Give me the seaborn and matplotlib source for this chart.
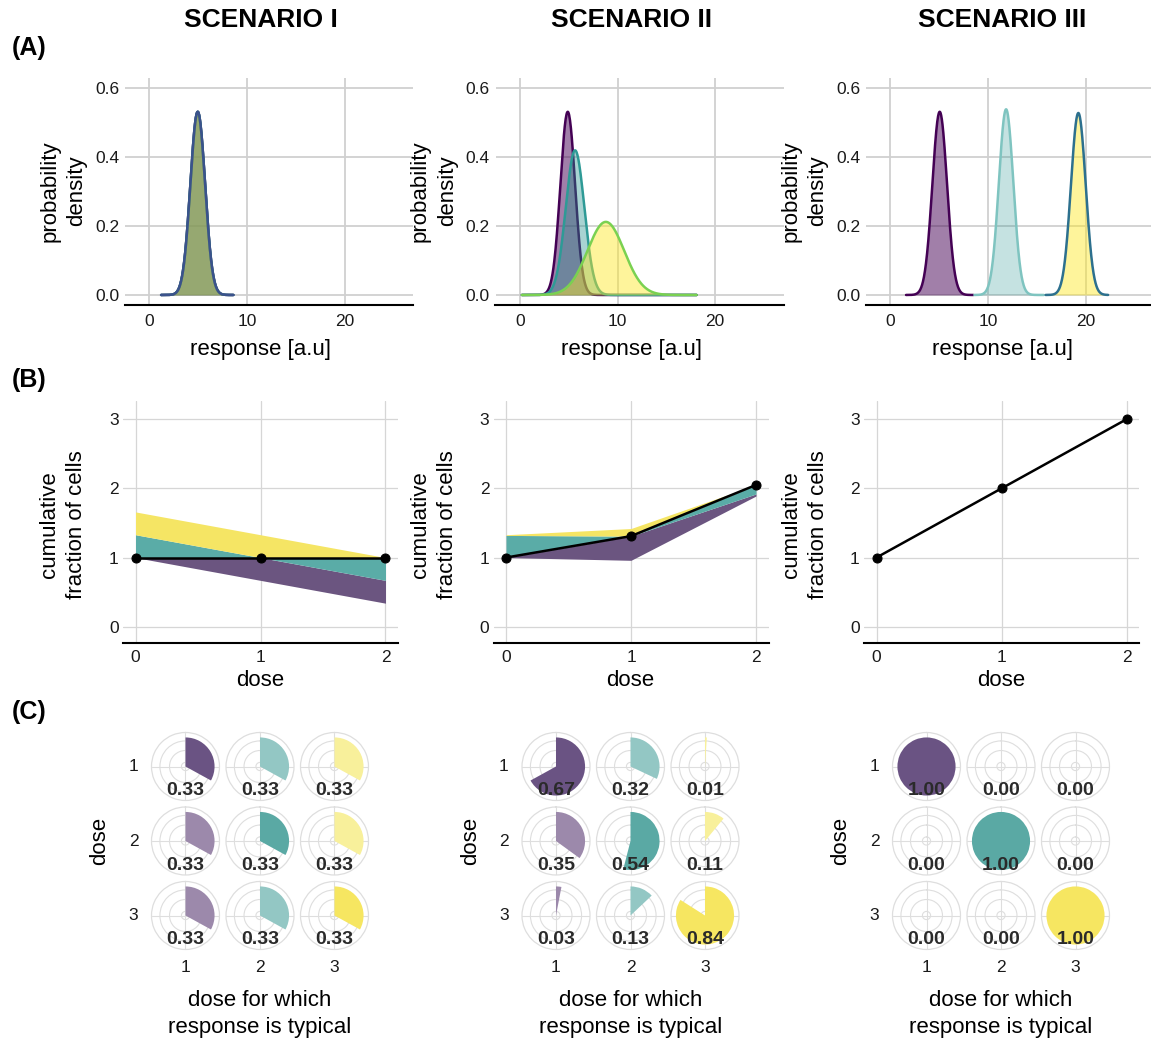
import numpy as np
import matplotlib
matplotlib.use("Agg")
import matplotlib.pyplot as plt
import seaborn as sns

sns.set_theme(style="whitegrid")
plt.rcParams['font.family'] = ['Liberation Sans', 'DejaVu Sans']

W, H = 1151, 1042
fig = plt.figure(figsize=(W / 100, H / 100), dpi=100)

scenario_titles = ["SCENARIO I", "SCENARIO II", "SCENARIO III"]
dose_labels = ["1", "2", "3"]
doses = [0, 1, 2]

# (A) response distributions for doses 1, 2, 3 (normal: mean, sd, drawn range)
means_I = [4.95, 4.95, 4.95]
sds_I = [0.75, 0.75, 0.75]
ranges_I = [(1.2, 8.6), (1.2, 8.6), (1.2, 8.6)]

means_II = [4.9, 5.65, 8.8]
sds_II = [0.75, 0.95, 1.88]
ranges_II = [(0.2, 18.1), (0.2, 18.1), (0.2, 18.1)]

means_III = [5.05, 11.85, 19.25]
sds_III = [0.75, 0.74, 0.755]
ranges_III = [(1.6, 8.5), (8.6, 15.7), (15.9, 22.3)]

# (B) cumulative fraction of cells at dose 0, 1, 2
cumfrac_I = [1.0, 1.0, 1.0]
cumfrac_II = [1.0, 1.31, 2.05]
cumfrac_III = [1.0, 2.0, 3.0]

# (C) fraction of cells at each dose (rows) whose response is typical for each dose (columns)
typical_I = [[0.33, 0.33, 0.33],
             [0.33, 0.33, 0.33],
             [0.33, 0.33, 0.33]]
typical_II = [[0.67, 0.32, 0.01],
              [0.35, 0.54, 0.11],
              [0.03, 0.13, 0.84]]
typical_III = [[1.00, 0.00, 0.00],
               [0.00, 1.00, 0.00],
               [0.00, 0.00, 1.00]]

# styling
fill_rgb = ['#440154', '#21908C', '#FDE725']
fill_alpha = [[0.5, 0.5, 0.35], [0.5, 0.39, 0.46], [0.5, 0.26, 0.46]]
line_cols = [['#440154', '#21908C', '#3B528B'],
             ['#440154', '#2E9A96', '#7AD151'],
             ['#440154', '#7FC4C0', '#2D708E']]
band_cols = ['#6b5580', '#5aaca7', '#f5e564']
wedge_diag = ['#6a5383', '#5aa9a4', '#f6e661']
wedge_off = ['#9c89ab', '#93c7c4', '#f8f09b']
TICK_C = '#1a1a1a'
LABEL_FS = 16
STEP = 370.5


def px_axes(l, t, r, b, **kw):
    return fig.add_axes([l / W, 1 - b / H, (r - l) / W, (b - t) / H], **kw)


def ftext(x, y, s, **kw):
    kw.setdefault('ha', 'center')
    kw.setdefault('va', 'center')
    fig.text(x / W, 1 - y / H, s, **kw)


def style_cartesian(ax, grid_lw, grid_c):
    ax.set_facecolor('white')
    ax.grid(True, color=grid_c, lw=grid_lw)
    for side in ['left', 'top', 'right']:
        ax.spines[side].set_visible(False)
    ax.spines['bottom'].set_visible(True)
    ax.spines['bottom'].set_color('black')
    ax.spines['bottom'].set_linewidth(1.5)
    ax.tick_params(length=0, labelsize=12.5, labelcolor=TICK_C)
    ax.set_xlabel('')
    ax.set_ylabel('')


density_sets = [(means_I, sds_I, ranges_I), (means_II, sds_II, ranges_II),
                (means_III, sds_III, ranges_III)]
cumfrac_sets = [cumfrac_I, cumfrac_II, cumfrac_III]
typical_sets = [typical_I, typical_II, typical_III]

for k in range(3):
    off = k * STEP
    cx = 261 + off
    ftext(cx, 20, scenario_titles[k], fontsize=19, fontweight='bold', color='black')

    # ---------- (A) densities ----------
    ax = px_axes(125 + off, 78, 413 + off, 305.3)
    means, sds, ranges = density_sets[k]
    for i in range(3):
        x = np.linspace(ranges[i][0], ranges[i][1], 400)
        y = np.exp(-0.5 * ((x - means[i]) / sds[i]) ** 2) / (sds[i] * np.sqrt(2 * np.pi))
        ax.fill_between(x, 0, y, color=fill_rgb[i], alpha=fill_alpha[k][i], lw=0, zorder=2 + i)
        sns.lineplot(x=x, y=y, color=line_cols[k][i], lw=1.8, ax=ax, zorder=2.5 + i,
                     sort=False, estimator=None)
    ax.set_xlim(-2.5, 27)
    ax.set_ylim(-0.03, 0.63)
    ax.set_xticks([0, 10, 20])
    ax.set_yticks([0, 0.2, 0.4, 0.6])
    ax.set_yticklabels(["0.0", "0.2", "0.4", "0.6"])
    style_cartesian(ax, 1.3, '#d0d0d0')
    ax.tick_params(axis='x', pad=6)
    ax.tick_params(axis='y', pad=4)
    ftext(cx, 350, "response [a.u]", fontsize=LABEL_FS, color='black')
    ftext(50 + off, 191, "probability", fontsize=LABEL_FS, rotation=90, color='black')
    ftext(77 + off, 191, "density", fontsize=LABEL_FS, rotation=90, color='black')

    # ---------- (B) cumulative fractions ----------
    ax = px_axes(123 + off, 400.6, 398 + off, 642.6)
    frac = np.array(typical_sets[k])
    black = np.array(cumfrac_sets[k])
    lower = np.zeros((3, 3))
    upper = np.zeros((3, 3))
    for d in range(3):
        thick = frac[d].copy()
        thick[d] = 0.0
        base = black[d] - thick[:d].sum()
        for j in range(3):
            lower[j, d] = base
            upper[j, d] = base + thick[j]
            base += thick[j]
    for j in range(3):
        if np.any(upper[j] - lower[j] > 0):
            ax.fill_between(doses, lower[j], upper[j], color=band_cols[j], lw=0, zorder=2)
    sns.lineplot(x=doses, y=black, color='black', lw=1.8, marker='o', markersize=6.5,
                 markeredgecolor='black', ax=ax, zorder=4)
    ax.set_xlim(-0.1, 2.1)
    ax.set_ylim(-0.23, 3.27)
    ax.set_xticks(doses)
    ax.set_yticks([0, 1, 2, 3])
    style_cartesian(ax, 0.9, '#d6d6d6')
    ax.tick_params(axis='x', pad=5)
    ax.tick_params(axis='y', pad=3)
    ftext(cx - 1, 681, "dose", fontsize=LABEL_FS, color='black')
    ftext(50 + off, 525, "cumulative", fontsize=LABEL_FS, rotation=90, color='black')
    ftext(77 + off, 525, "fraction of cells", fontsize=LABEL_FS, rotation=90, color='black')

    # ---------- (C) typical-response wedges ----------
    R = 34
    for i in range(3):
        cy = 766.5 + i * 74.5
        for j in range(3):
            px = 185.5 + off + j * 74.5
            pax = px_axes(px - R, cy - R, px + R, cy + R, projection='polar')
            pax.set_facecolor('white')
            pax.set_theta_zero_location('N')
            pax.set_theta_direction(-1)
            v = frac[i, j]
            if v > 0:
                col = wedge_diag[j] if i == j else wedge_off[j]
                pax.bar(0, 1.0, width=2 * np.pi * v, bottom=0, align='edge',
                        color=col, lw=0, zorder=2)
            pax.set_rlim(0, 1.17)
            pax.set_rticks([0.14, 0.55, 0.88])
            pax.set_xticks([0, np.pi / 2, np.pi, 3 * np.pi / 2])
            pax.set_xticklabels([])
            pax.set_yticklabels([])
            pax.grid(True, color='#dedede', lw=0.8)
            pax.spines['polar'].set_color('#dedede')
            pax.spines['polar'].set_linewidth(0.9)
            pax.tick_params(length=0, pad=0)
            ftext(px, cy + 24, f"{v:.2f}", fontsize=14, fontweight='bold', color='#2a2a2a')
        ftext(133.5 + off, cy, dose_labels[i], fontsize=12.5, color=TICK_C)
    for j in range(3):
        ftext(185.5 + off + j * 74.5, 968, dose_labels[j], fontsize=12.5, color=TICK_C)
    ftext(100 + off, 841, "dose", fontsize=LABEL_FS, rotation=90, color='black')
    ftext(260 + off, 1001, "dose for which", fontsize=LABEL_FS, color='black')
    ftext(260 + off, 1028, "response is typical", fontsize=LABEL_FS, color='black')

for lab, y in [("(A)", 48), ("(B)", 380), ("(C)", 712)]:
    ftext(12, y, lab, fontsize=18, fontweight='bold', ha='left', color='black')

fig.savefig("out.png", dpi=100, facecolor='white')
